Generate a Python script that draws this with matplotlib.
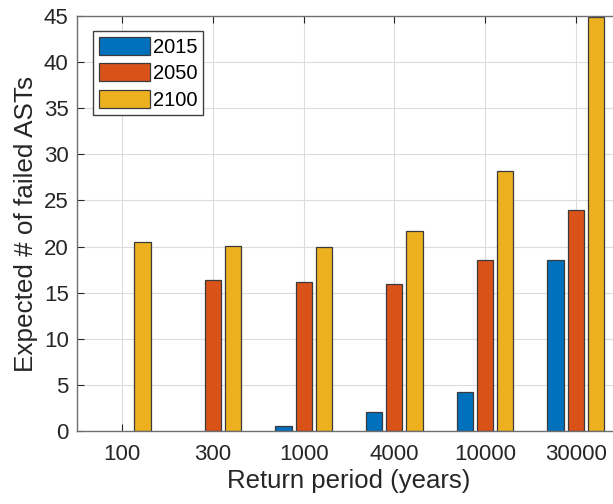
import numpy as np
import matplotlib
matplotlib.use('Agg')
import matplotlib.pyplot as plt

# Données
periods = ['100', '300', '1000', '4000', '10000', '30000']
years = ['2015', '2050', '2100']
v2015 = [0, 0, 0.5, 2.05, 4.2, 18.5]
v2050 = [0, 16.4, 16.2, 15.95, 18.5, 24.0]
v2100 = [20.5, 20.1, 19.95, 21.65, 28.2, 44.9]
colors = ['#0072BD', '#D95319', '#EDB120']

plt.rcParams['font.family'] = ['Liberation Sans', 'DejaVu Sans']

fig = plt.figure(figsize=(6.13, 5.04), dpi=100)
# l'axe déborde à droite (image recadrée)
ax = fig.add_axes([77/613, 73/504, 544/613, 415/504])
ax.set_axisbelow(True)

x = np.arange(1, len(periods) + 1)
step = 0.667 / 3
width = 0.8 * step
all_bars = []
for i, (vals, lab) in enumerate(zip([v2015, v2050, v2100], years)):
    bars = ax.bar(x + (i - 1) * step, vals, width, color=colors[i], edgecolor='#3a3a3a',
                  linewidth=0.9, label=lab, zorder=2)
    all_bars.extend(bars)

ax.set_xlim(0.5, 6.5)
ax.set_ylim(0, 45)
ax.set_xticks(x)
ax.set_xticklabels(periods)
ax.set_yticks(np.arange(0, 46, 5))
ax.tick_params(direction='in', labelsize=16, colors='#262626', length=5,
               top=True, right=True, pad=6)
ax.tick_params(axis='x', pad=9)
ax.grid(True, color='#dcdcdc', linewidth=0.8)
for s in ax.spines.values():
    s.set_color('#6f6f6f')
    s.set_linewidth(1.0)
    s.set_zorder(3)

ax.set_xlabel('Return period (years)', fontsize=18.5, color='#262626', labelpad=3)
ax.set_ylabel('Expected # of failed ASTs', fontsize=18.8, color='#262626', labelpad=4)

leg = ax.legend(loc='upper left', bbox_to_anchor=(93/613, 1 - 31/504),
                bbox_transform=fig.transFigure, fontsize=14.5, handlelength=2.55,
                handleheight=1.0, labelspacing=0.33, handletextpad=0.15,
                borderpad=0.28, borderaxespad=0, fancybox=False, framealpha=1)
leg.get_frame().set_edgecolor('#404040')
leg.get_frame().set_linewidth(1.0)

# barres nulles : pas de contour visible (après la légende)
for b in all_bars:
    if b.get_height() == 0:
        b.set_linewidth(0)

fig.savefig('out.png', dpi=100)
